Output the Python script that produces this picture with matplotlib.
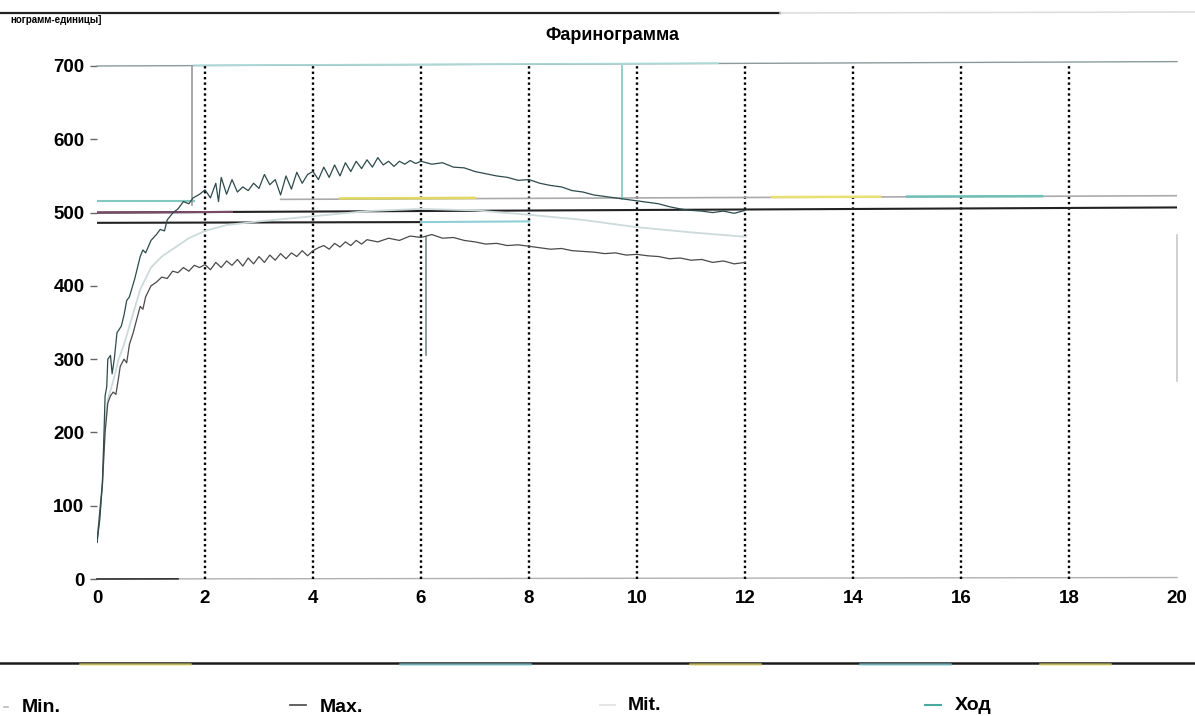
import numpy as np
import matplotlib.pyplot as plt
from matplotlib.lines import Line2D

plt.rcParams['font.family'] = ['Liberation Sans', 'DejaVu Sans']
plt.rcParams['font.weight'] = 'bold'

# --- data (time in min, consistency in FU) ---
max_x = [0.0, 0.05, 0.1, 0.13, 0.15, 0.18, 0.2, 0.25, 0.28, 0.32, 0.37, 0.45, 0.5, 0.55, 0.6,
         0.7, 0.8, 0.85, 0.9, 1.0, 1.1, 1.17, 1.25, 1.3, 1.41, 1.5, 1.6, 1.7, 1.78, 1.9, 2.0,
         2.1, 2.2, 2.25, 2.3, 2.4, 2.5, 2.6, 2.7, 2.8, 2.9, 3.0, 3.1, 3.2, 3.3, 3.4, 3.5, 3.6,
         3.7, 3.8, 3.9, 4.0, 4.1, 4.2, 4.3, 4.4, 4.5, 4.6, 4.7, 4.8, 4.9, 5.0, 5.1, 5.2, 5.3,
         5.4, 5.5, 5.6, 5.7, 5.8, 5.9, 6.0, 6.2, 6.4, 6.6, 6.8, 7.0, 7.2, 7.4, 7.6, 7.8, 8.0,
         8.2, 8.4, 8.6, 8.8, 9.0, 9.2, 9.4, 9.6, 9.8, 10.0, 10.2, 10.4, 10.6, 10.8, 11.0, 11.2,
         11.4, 11.6, 11.8, 12.0]
max_y = [50, 80, 130, 200, 250, 262, 300, 305, 280, 300, 336, 345, 360, 380, 385,
         410, 440, 449, 445, 462, 470, 477, 475, 490, 500, 505, 515, 512, 520, 525, 531,
         520, 540, 515, 548, 525, 545, 528, 535, 530, 540, 533, 552, 538, 545, 524, 550, 532,
         555, 540, 552, 556, 545, 562, 548, 565, 550, 568, 556, 570, 560, 572, 562, 575, 565,
         570, 563, 570, 566, 571, 567, 570, 566, 568, 562, 561, 556, 553, 550, 548, 544, 545,
         540, 537, 535, 530, 528, 524, 522, 520, 518, 516, 514, 512, 508, 505, 503, 502,
         500, 502, 499, 503]

min_x = [0.0, 0.1, 0.15, 0.2, 0.25, 0.3, 0.35, 0.4, 0.43, 0.5, 0.55, 0.6, 0.67, 0.72, 0.8,
         0.85, 0.9, 1.0, 1.1, 1.2, 1.3, 1.4, 1.5, 1.6, 1.7, 1.8, 1.9, 2.0, 2.1, 2.2, 2.3, 2.4,
         2.5, 2.6, 2.7, 2.8, 2.9, 3.0, 3.1, 3.2, 3.3, 3.4, 3.5, 3.6, 3.7, 3.8, 3.9, 4.0, 4.1,
         4.2, 4.3, 4.4, 4.5, 4.6, 4.7, 4.8, 4.9, 5.0, 5.2, 5.4, 5.6, 5.8, 6.0, 6.2, 6.4, 6.6,
         6.8, 7.0, 7.2, 7.4, 7.6, 7.8, 8.0, 8.2, 8.4, 8.6, 8.8, 9.0, 9.2, 9.4, 9.6, 9.8, 10.0,
         10.2, 10.4, 10.6, 10.8, 11.0, 11.2, 11.4, 11.6, 11.8, 12.0]
min_y = [50, 130, 200, 240, 250, 255, 252, 275, 290, 300, 295, 320, 336, 350, 372,
         368, 385, 400, 405, 412, 410, 420, 418, 425, 420, 428, 425, 429, 422, 432, 425, 434,
         428, 436, 427, 438, 430, 440, 432, 442, 435, 444, 437, 445, 440, 448, 441, 448, 452,
         455, 450, 458, 453, 460, 455, 462, 457, 463, 460, 465, 462, 468, 466, 470, 465, 466,
         462, 460, 457, 458, 455, 456, 454, 452, 450, 451, 448, 447, 446, 444, 445, 442, 443,
         441, 440, 437, 438, 435, 436, 432, 434, 430, 432]

mit_x = [0.0, 0.1, 0.15, 0.2, 0.3, 0.4, 0.5, 0.6, 0.7, 0.8, 0.9, 1.0, 1.2, 1.46, 1.7, 2.0,
         2.4, 3.0, 4.0, 5.0, 6.0, 7.0, 8.0, 9.0, 10.0, 11.0, 12.0]
mit_y = [50, 130, 210, 245, 270, 300, 320, 345, 370, 395, 410, 425, 440, 453, 465, 475,
         483, 488, 495, 502, 505, 503, 497, 490, 480, 473, 467]

# reference lines of the tolerance band (scan is slightly tilted)
band_mid_x, band_mid_y = [0, 20], [500, 507]
band_low_x, band_low_y = [0, 6, 8], [486, 487, 488]
band_up1_x, band_up1_y = [0, 1.8], [516, 516]
band_up2_x, band_up2_y = [3.4, 20], [518, 523]
top_x, top_y = [0, 20], [700, 706]
zero_x, zero_y = [0, 20], [0, 2]

# vertical markers: x, y from, y to
mark_x = [1.75, 9.72, 6.1, 20.0]
mark_lo = [510, 518, 306, 270]
mark_hi = [700, 700, 466, 470]
mark_col = ['#9a9a9a', '#7fc4c4', '#7a8a8a', '#c8c8c8']

grid_x = [2, 4, 6, 8, 10, 12, 14, 16, 18]
x_ticks = [0, 2, 4, 6, 8, 10, 12, 14, 16, 18, 20]
y_ticks = [0, 100, 200, 300, 400, 500, 600, 700]

W, H = 1195, 716
fig = plt.figure(figsize=(W / 100, H / 100), dpi=100)
ax = fig.add_axes([97 / W, 137 / H, 1080 / W, 513 / H])
ax.set_xlim(0, 20)
ax.set_ylim(0, 700)
for s in ax.spines.values():
    s.set_visible(False)

# frame lines at 0 and 700
ax.plot(top_x, top_y, color='#8a9a9a', lw=1.0, clip_on=False)
ax.plot([1.8, 11.5], [700.9, 703.8], color='#a8d8d8', lw=1.2, clip_on=False)
ax.plot(zero_x, zero_y, color='#b0b0b0', lw=1.0, clip_on=False)
ax.plot([0, 1.5], [0, 0.2], color='#333333', lw=1.2, clip_on=False)

# dotted grid
for gx in grid_x:
    ax.plot([gx, gx], [0, 700], color='black', lw=1.7, linestyle=(0, (1, 1.3)))

# tolerance band
ax.plot(band_mid_x, band_mid_y, color='#222222', lw=1.5)
ax.plot([0, 2.5], [500, 500.9], color='#7a4a6a', lw=1.5)
ax.plot(band_low_x[:2], band_low_y[:2], color='#222222', lw=1.5)
ax.plot(band_low_x[1:], band_low_y[1:], color='#8fd0d8', lw=1.5)
ax.plot(band_up1_x, band_up1_y, color='#80c8c0', lw=1.5)
ax.plot(band_up2_x, band_up2_y, color='#aaaaaa', lw=1.2)
ax.plot([4.5, 7.0], [519.3, 520.0], color='#e0d860', lw=1.8)
ax.plot([12.5, 14.5], [521.1, 521.6], color='#e8e070', lw=1.8)
ax.plot([15.0, 17.5], [521.8, 522.4], color='#70c0b8', lw=1.8)

# vertical markers
for mx, lo, hi, c in zip(mark_x, mark_lo, mark_hi, mark_col):
    ax.plot([mx, mx], [lo, hi], color=c, lw=1.2, clip_on=False)

# curves
ax.plot(mit_x, mit_y, color='#cddada', lw=1.3)
ax.plot(min_x, min_y, color='#4a4a4a', lw=0.9)
ax.plot(max_x, max_y, color='#2e4a4a', lw=0.9)

# ticks
ax.set_xticks(x_ticks)
ax.set_yticks(y_ticks)
ax.tick_params(axis='x', length=0, pad=8, labelsize=13.5)
ax.tick_params(axis='y', length=5, width=1, color='#666666', pad=4, labelsize=13.5)
for lab in ax.get_xticklabels() + ax.get_yticklabels():
    lab.set_fontweight('bold')

# title and unit label
fig.text(612 / W, 1 - 35 / H, 'Фаринограмма', ha='center', va='center',
         fontsize=13, fontweight='bold')
fig.text(10 / W, 1 - 20 / H, 'нограмм-единицы]', ha='left', va='center',
         fontsize=7, fontweight='bold')

# page border lines
fig.add_artist(Line2D([0, 780 / W], [1 - 13 / H, 1 - 13 / H], color='#222222', lw=1.6))
fig.add_artist(Line2D([780 / W, 1], [1 - 13 / H, 1 - 12 / H], color='#dddddd', lw=1.2))
fig.add_artist(Line2D([0, 1], [1 - 663 / H, 1 - 663 / H], color='#1a1a1a', lw=1.8))
for x0, x1, c in [(80, 190, '#e8e070'), (400, 530, '#80d0d8'), (690, 760, '#e8d870'),
                  (860, 950, '#80d0d8'), (1040, 1110, '#e8e070')]:
    fig.add_artist(Line2D([x0 / W, x1 / W], [1 - 664 / H, 1 - 664 / H], color=c, lw=1.8, alpha=0.7))

# legend row
ly = 1 - 707 / H
fig.add_artist(Line2D([4 / W, 8 / W], [ly, ly], color='#bbbbbb', lw=1.2))
fig.text(22 / W, ly, 'Min.', ha='left', va='center', fontsize=14, fontweight='bold')
fig.add_artist(Line2D([290 / W, 306 / W], [ly + 2 / H, ly + 2 / H], color='#555555', lw=1.3))
fig.text(320 / W, ly, 'Max.', ha='left', va='center', fontsize=14, fontweight='bold')
fig.add_artist(Line2D([600 / W, 615 / W], [ly + 2 / H, ly + 2 / H], color='#e4e4e4', lw=1.3))
fig.text(628 / W, ly + 2 / H, 'Mit.', ha='left', va='center', fontsize=14, fontweight='bold')
fig.add_artist(Line2D([925 / W, 941 / W], [ly + 2 / H, ly + 2 / H], color='#4aa8a0', lw=1.5))
fig.text(955 / W, ly + 2 / H, 'Ход', ha='left', va='center', fontsize=14, fontweight='bold')

fig.savefig('out.png', dpi=100)
